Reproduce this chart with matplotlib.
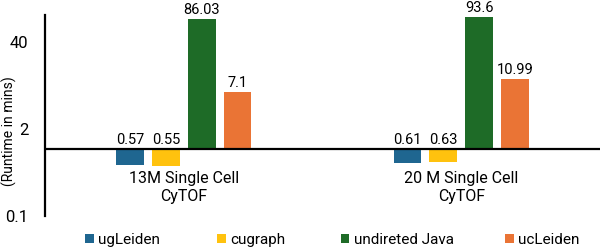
import matplotlib

matplotlib.use("Agg")
import matplotlib.pyplot as plt
from matplotlib.ticker import FixedLocator, NullLocator
import numpy as np

plt.rcParams["font.family"] = ["Roboto", "DejaVu Sans"]

datasets = ["13M Single Cell\nCyTOF", "20 M Single Cell\nCyTOF"]
methods = ["ugLeiden", "cugraph", "undireted Java", "ucLeiden"]
runtimes = {
    "ugLeiden": [0.57, 0.61],
    "cugraph": [0.55, 0.63],
    "undireted Java": [86.03, 93.6],
    "ucLeiden": [7.1, 10.99],
}
value_labels = {
    "ugLeiden": ["0.57", "0.61"],
    "cugraph": ["0.55", "0.63"],
    "undireted Java": ["86.03", "93.6"],
    "ucLeiden": ["7.1", "10.99"],
}
y_ticks = [0.1, 2, 40]
y_tick_labels = ["0.1", "2", "40"]

COLORS = ["#1F6690", "#FFC20E", "#1E6B27", "#EA7435"]
# left edge of each legend entry, figure fraction (Excel spreads them evenly)
LEGEND_X = [0.142, 0.362, 0.568, 0.842]

fig = plt.figure(figsize=(6.0, 2.52), dpi=100)
ax = fig.add_axes([0.075, 0.143, 0.925, 0.797])

centers = np.arange(len(datasets)) + 0.5
width = 0.1
step = 0.129
offsets = (np.arange(len(methods)) - 1.5) * step

handles = []
for i, (method, color) in enumerate(zip(methods, COLORS)):
    vals = np.array(runtimes[method])
    xs = centers + offsets[i]
    # bars grow from the baseline at 1 min, so values < 1 hang below it
    bars = ax.bar(xs, vals - 1, bottom=1, width=width, color=color, label=method)
    handles.append(bars)
    for x, v, lab in zip(xs, vals, value_labels[method]):
        ax.text(x, max(v, 1) * 1.08, lab, ha="center", va="bottom", fontsize=10.5)

ax.set_yscale("log")
ax.set_ylim(0.1, 100)
ax.set_xlim(0, 2)
ax.yaxis.set_major_locator(FixedLocator(y_ticks))
ax.yaxis.set_minor_locator(NullLocator())
ax.set_yticklabels(y_tick_labels, fontsize=12)
ax.tick_params(axis="y", length=0, pad=12)
ax.set_xticks([])

ax.axhline(1, color="black", linewidth=1.6, zorder=3)
for side in ("top", "right", "bottom"):
    ax.spines[side].set_visible(False)
ax.spines["left"].set_linewidth(1.6)

for c, name in zip(centers, datasets):
    ax.text(c, 0.47, name, ha="center", va="top", fontsize=11.5, linespacing=1.25)

ax.set_ylabel("(Runtime in mins)", fontsize=10, labelpad=2)
ax.yaxis.set_label_coords(-0.05, 0.42)

for h, method, x in zip(handles, methods, LEGEND_X):
    fig.legend(
        handles=[h],
        labels=[method],
        loc="center left",
        bbox_to_anchor=(x, 0.048),
        frameon=False,
        fontsize=11,
        borderpad=0,
        borderaxespad=0,
        handlelength=0.55,
        handleheight=0.55,
        handletextpad=0.3,
    )

fig.savefig("out.png", dpi=100)
